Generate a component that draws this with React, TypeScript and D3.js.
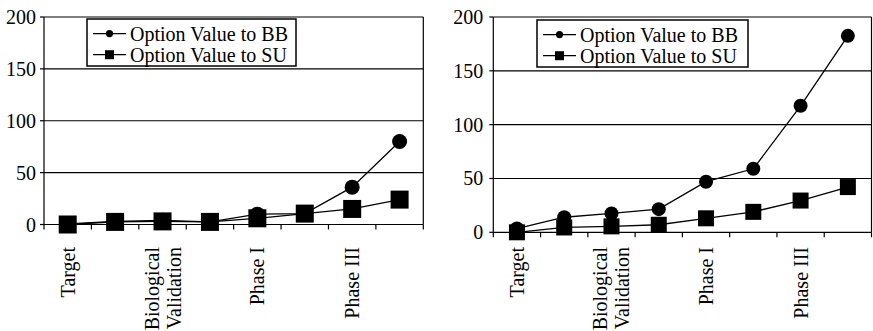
import React from "react";
import * as d3 from "d3";

const stageLabels: string[][] = [["Target"], [], ["Biological", "Validation"], [], ["Phase I"], [], ["Phase III"], []];
const yTicks = [0, 50, 100, 150, 200];
const seriesNames = ["Option Value to BB", "Option Value to SU"];

const leftBB = [0.5, 3, 4, 2.5, 10, 10.5, 36, 80];
const leftSU = [0, 2.5, 3, 2.5, 6, 10.5, 15, 24];
const rightBB = [3.5, 14, 17.5, 21.5, 47, 59, 117.5, 182.5];
const rightSU = [0, 4.5, 5.5, 7, 13, 19, 29.5, 42];

const FONT = "Liberation Serif, Tinos, Times New Roman, DejaVu Serif, serif";

type ChartProps = {
  x0: number; x1: number; y0: number; y1: number;
  bb: number[]; su: number[];
  circleR: number; sq: number;
  legend: { x: number; y: number; w: number; h: number };
  labelTop: number; yLabelGap: number;
};

function Chart({ x0, x1, y0, y1, bb, su, circleR, sq, legend, labelTop, yLabelGap }: ChartProps) {
  const idx = d3.range(stageLabels.length);
  const x = d3.scaleBand<number>().domain(idx).range([x0, x1]).padding(0);
  const y = d3.scaleLinear().domain([0, 200]).range([y1, y0]);
  const cx = (i: number) => (x(i) as number) + x.bandwidth() / 2;
  const line = d3.line<number>().x((_, i) => cx(i)).y((v) => y(v));
  const bounds = idx.map((i) => x(i) as number).concat([x1]);
  const rowY = [legend.y + legend.h * 0.31, legend.y + legend.h * 0.76];
  const lx0 = legend.x + 6, lx1 = legend.x + 39, lmid = (lx0 + lx1) / 2;
  return (
    <g style={{ fontFamily: FONT }} fill="#000">
      {yTicks.map((t) => (
        <g key={t}>
          {t > 0 && <line x1={x0} x2={x1} y1={y(t)} y2={y(t)} stroke="#000" strokeWidth={1.2} />}
          <line x1={x0 - 4} x2={x0} y1={y(t)} y2={y(t)} stroke="#000" strokeWidth={1.2} />
          <text x={x0 - yLabelGap} y={y(t)} dy="0.35em" textAnchor="end" fontSize={20}>{t}</text>
        </g>
      ))}
      <line x1={x1} x2={x1} y1={y(200)} y2={y(0)} stroke="#000" strokeWidth={1.2} />
      <line x1={x0} x2={x0} y1={y(200)} y2={y(0)} stroke="#000" strokeWidth={1.2} />
      <line x1={x0} x2={x1} y1={y(0)} y2={y(0)} stroke="#000" strokeWidth={1.2} />
      {bounds.map((b, i) => (
        <line key={i} x1={b} x2={b} y1={y(0)} y2={y(0) + 5} stroke="#000" strokeWidth={1.2} />
      ))}
      {stageLabels.map((lines, i) =>
        lines.map((s, j) => {
          const off = (j - (lines.length - 1) / 2) * 22;
          const tx = cx(i) + off;
          return (
            <text key={i + "-" + j} transform={`translate(${tx},${labelTop}) rotate(-90)`} dy="0.35em" textAnchor="end" fontSize={20}>{s}</text>
          );
        })
      )}
      <path d={line(bb) as string} fill="none" stroke="#000" strokeWidth={1.3} />
      <path d={line(su) as string} fill="none" stroke="#000" strokeWidth={1.3} />
      {bb.map((v, i) => <circle key={"c" + i} cx={cx(i)} cy={y(v)} r={circleR} fill="#000" />)}
      {su.map((v, i) => <rect key={"s" + i} x={cx(i) - sq / 2} y={y(v) - sq / 2} width={sq} height={sq} fill="#000" />)}
      <rect x={legend.x} y={legend.y} width={legend.w} height={legend.h} fill="#fff" stroke="#000" strokeWidth={1.5} />
      {seriesNames.map((n, k) => (
        <g key={n}>
          <line x1={lx0} x2={lx1} y1={rowY[k]} y2={rowY[k]} stroke="#000" strokeWidth={1.3} />
          {k === 0 ? <circle cx={lmid} cy={rowY[k]} r={3.6} /> : <rect x={lmid - 4.5} y={rowY[k] - 4.5} width={9} height={9} />}
          <text x={lx1 + 4} y={rowY[k]} dy="0.35em" fontSize={20}>{n}</text>
        </g>
      ))}
    </g>
  );
}

export default function App() {
  return (
    <svg width={873} height={331} style={{ position: "absolute", left: 0, top: 0, background: "#fff" }}>
      <rect width={873} height={331} fill="#fff" />
      <Chart x0={44} x1={423.3} y0={17} y1={224.5} bb={leftBB} su={leftSU} circleR={7.5} sq={18}
        legend={{ x: 87, y: 19, w: 209, h: 47 }} labelTop={247} yLabelGap={8} />
      <Chart x0={493.3} x1={871.5} y0={17} y1={232.3} bb={rightBB} su={rightSU} circleR={7} sq={16}
        legend={{ x: 537, y: 20, w: 211, h: 47 }} labelTop={247} yLabelGap={10} />
    </svg>
  );
}
